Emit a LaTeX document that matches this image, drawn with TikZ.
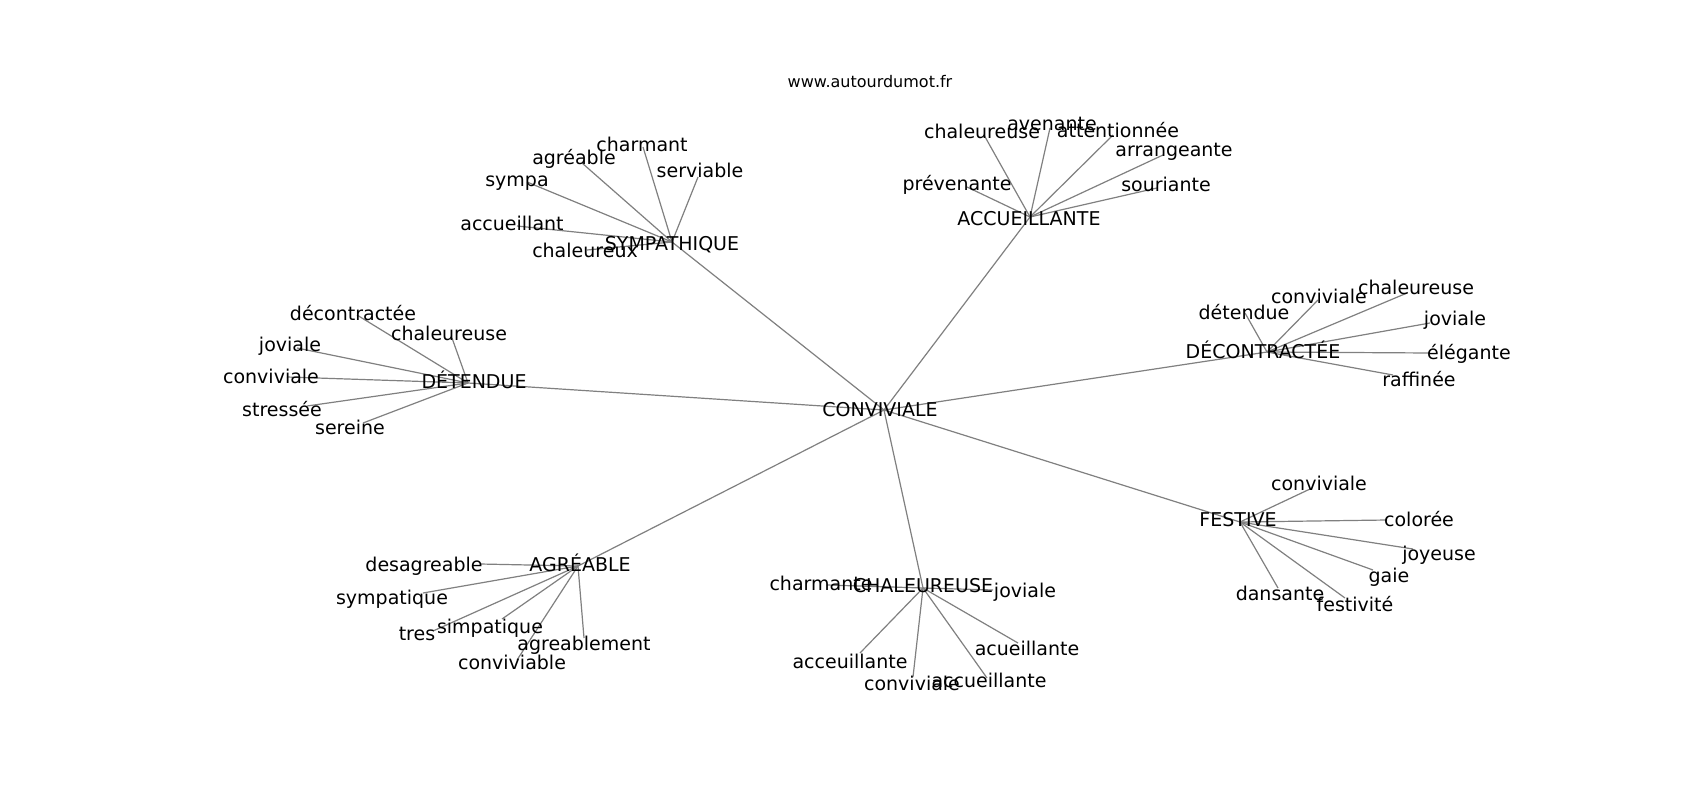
\documentclass[tikz,border=0pt]{standalone}
\usepackage{fontspec}
\setmainfont{DejaVu Sans}
\begin{document}
\begin{tikzpicture}[x=1pt,y=-1pt,
  edge/.style={draw=black!50, line width=1.2pt},
  lbl/.style={anchor=base, inner sep=0pt, font=\fontsize{19}{22}\selectfont, text=black},
  ttl/.style={anchor=base, inner sep=0pt, font=\fontsize{16}{19}\selectfont, text=black}]
\fill[white] (0,0) rectangle (1700,800);
\useasboundingbox (0,0) rectangle (1700,800);
% hubs
\coordinate (conv) at (884,410);
\coordinate (symp) at (672,242);
\coordinate (accu) at (1030,217);
\coordinate (dete) at (468,383);
\coordinate (deco) at (1267,352);
\coordinate (fest) at (1240,522);
\coordinate (agre) at (578,566);
\coordinate (chal) at (923,588);
% leaf ends
\coordinate (s1) at (643,147);
\coordinate (s2) at (582,163);
\coordinate (s3) at (698,177);
\coordinate (s4) at (527,182);
\coordinate (s5) at (517,226);
\coordinate (s6) at (587,250);
\coordinate (a1) at (984,135);
\coordinate (a2) at (1050,128);
\coordinate (a3) at (1113,135);
\coordinate (a4) at (1163,155);
\coordinate (a5) at (967,187);
\coordinate (a6) at (1157,188);
\coordinate (d1) at (357,315);
\coordinate (d2) at (452,338);
\coordinate (d3) at (297,348);
\coordinate (d4) at (287,377);
\coordinate (d5) at (307,406);
\coordinate (d6) at (363,423);
\coordinate (k1) at (1407,293);
\coordinate (k2) at (1318,300);
\coordinate (k3) at (1245,313);
\coordinate (k4) at (1430,323);
\coordinate (k5) at (1430,353);
\coordinate (k6) at (1393,375);
\coordinate (f1) at (1310,489);
\coordinate (f2) at (1387,520);
\coordinate (f3) at (1413,549);
\coordinate (f4) at (1373,570);
\coordinate (f5) at (1278,588);
\coordinate (f6) at (1345,598);
\coordinate (g1) at (480,564);
\coordinate (g2) at (423,593);
\coordinate (g3) at (433,631);
\coordinate (g4) at (502,619);
\coordinate (g5) at (584,638);
\coordinate (g6) at (517,660);
\coordinate (c1) at (827,585);
\coordinate (c2) at (993,590);
\coordinate (c3) at (860,653);
\coordinate (c4) at (1018,643);
\coordinate (c5) at (913,677);
\coordinate (c6) at (987,678);
% edges
\foreach \h in {symp,accu,dete,deco,fest,agre,chal} {\draw[edge] (conv) -- (\h);}
\foreach \l in {s1,s2,s3,s4,s5,s6} {\draw[edge] (symp) -- (\l);}
\foreach \l in {a1,a2,a3,a4,a5,a6} {\draw[edge] (accu) -- (\l);}
\foreach \l in {d1,d2,d3,d4,d5,d6} {\draw[edge] (dete) -- (\l);}
\foreach \l in {k1,k2,k3,k4,k5,k6} {\draw[edge] (deco) -- (\l);}
\foreach \l in {f1,f2,f3,f4,f5,f6} {\draw[edge] (fest) -- (\l);}
\foreach \l in {g1,g2,g3,g4,g5,g6} {\draw[edge] (agre) -- (\l);}
\foreach \l in {c1,c2,c3,c4,c5,c6} {\draw[edge] (chal) -- (\l);}
% title
\node[ttl] (title) at (870,88) {www.autourdumot.fr};
% hub labels
\node[lbl] (convl) at (880,416) {CONVIVIALE};
\node[lbl] (sympl) at (672,250) {SYMPATHIQUE};
\node[lbl] (accul) at (1029,225) {ACCUEILLANTE};
\node[lbl] (detel) at (474,388) {DÉTENDUE};
\node[lbl] (decol) at (1263,358) {DÉCONTRACTÉE};
\node[lbl] (festl) at (1238,526) {FESTIVE};
\node[lbl] (agrel) at (580,571) {AGRÉABLE};
\node[lbl] (chall) at (923,592) {CHALEUREUSE};
% leaf labels
\node[lbl] (s1l) at (642,151) {charmant};
\node[lbl] (s2l) at (574,164) {agréable};
\node[lbl] (s3l) at (700,177) {serviable};
\node[lbl] (s4l) at (517,186) {sympa};
\node[lbl] (s5l) at (512,230) {accueillant};
\node[lbl] (s6l) at (585,257) {chaleureux};
\node[lbl] (a1l) at (982,138) {chaleureuse};
\node[lbl] (a2l) at (1052,130) {avenante};
\node[lbl] (a3l) at (1118,137) {attentionnée};
\node[lbl] (a4l) at (1174,156) {arrangeante};
\node[lbl] (a5l) at (957,190) {prévenante};
\node[lbl] (a6l) at (1166,191) {souriante};
\node[lbl] (d1l) at (353,320) {décontractée};
\node[lbl] (d2l) at (449,340) {chaleureuse};
\node[lbl] (d3l) at (290,351) {joviale};
\node[lbl] (d4l) at (271,383) {conviviale};
\node[lbl] (d5l) at (282,416) {stressée};
\node[lbl] (d6l) at (350,434) {sereine};
\node[lbl] (k1l) at (1416,294) {chaleureuse};
\node[lbl] (k2l) at (1319,303) {conviviale};
\node[lbl] (k3l) at (1244,319) {détendue};
\node[lbl] (k4l) at (1455,325) {joviale};
\node[lbl] (k5l) at (1469,359) {élégante};
\node[lbl] (k6l) at (1419,386) {raffinée};
\node[lbl] (f1l) at (1319,490) {conviviale};
\node[lbl] (f2l) at (1419,526) {colorée};
\node[lbl] (f3l) at (1439,560) {joyeuse};
\node[lbl] (f4l) at (1389,582) {gaie};
\node[lbl] (f5l) at (1280,600) {dansante};
\node[lbl] (f6l) at (1355,611) {festivité};
\node[lbl] (g1l) at (424,571) {desagreable};
\node[lbl] (g2l) at (392,604) {sympatique};
\node[lbl] (g3l) at (417,640) {tres};
\node[lbl] (g4l) at (490,633) {simpatique};
\node[lbl] (g5l) at (584,650) {agreablement};
\node[lbl] (g6l) at (512,669) {conviviable};
\node[lbl] (c1l) at (821,590) {charmante};
\node[lbl] (c2l) at (1025,597) {joviale};
\node[lbl] (c3l) at (850,668) {acceuillante};
\node[lbl] (c4l) at (1027,655) {acueillante};
\node[lbl] (c5l) at (912,690) {conviviale};
\node[lbl] (c6l) at (989,687) {accueillante};
\end{tikzpicture}
\end{document}
